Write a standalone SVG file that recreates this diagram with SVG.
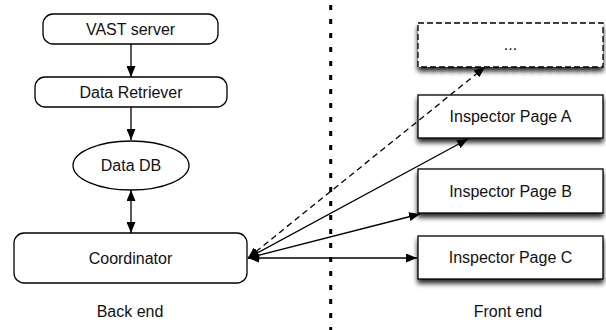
<svg xmlns="http://www.w3.org/2000/svg" width="606" height="330" viewBox="0 0 606 330">
<style>
  .box { fill: #fff; stroke: #000; stroke-width: 1.3; }
  .lbl { font-family: "Liberation Sans", Arial, sans-serif; font-size: 16px; fill: #111; text-anchor: middle; }
  .con { stroke: #000; stroke-width: 1.3; fill: none; }
  .dash { stroke-dasharray: 6 4; }
</style>
<defs>
  <marker id="ah" viewBox="0 0 11 9" markerWidth="11" markerHeight="9" refX="11" refY="4.5" orient="auto-start-reverse" markerUnits="userSpaceOnUse">
    <path d="M0,0 L11,4.5 L0,9 z" fill="#000"/>
  </marker>
  <filter id="sh" x="-10%" y="-20%" width="120%" height="160%">
    <feGaussianBlur in="SourceAlpha" stdDeviation="2.5"/>
    <feOffset dx="0" dy="4" result="b"/>
    <feComponentTransfer><feFuncA type="linear" slope="0.85"/></feComponentTransfer>
    <feMerge><feMergeNode/><feMergeNode in="SourceGraphic"/></feMerge>
  </filter>
</defs>
<rect width="606" height="330" fill="#fff"/>

<line x1="330.7" y1="5" x2="330.7" y2="330" stroke="#000" stroke-width="3" stroke-dasharray="5 9"/>

<g id="vast-server">
  <rect class="box" x="43" y="14" width="175" height="30" rx="10"/>
  <text class="lbl" x="130.5" y="34.8">VAST server</text>
</g>
<g id="data-retriever">
  <rect class="box" x="35" y="77" width="192" height="30" rx="10"/>
  <text class="lbl" x="131" y="97.8">Data Retriever</text>
</g>
<g id="data-db">
  <ellipse class="box" cx="131" cy="165.5" rx="58" ry="24.5"/>
  <text class="lbl" x="131" y="171.3">Data DB</text>
</g>
<g id="coordinator">
  <rect class="box" x="14" y="233" width="233" height="50" rx="10"/>
  <text class="lbl" x="130.5" y="263.8">Coordinator</text>
</g>
<g id="more">
  <rect class="box" x="418" y="23" width="185" height="44" filter="url(#sh)" style="stroke-dasharray:6 3"/>
  <text class="lbl" x="510.5" y="50">...</text>
</g>
<g id="page-a">
  <rect class="box" x="418" y="95" width="185" height="43" filter="url(#sh)"/>
  <text class="lbl" x="510.5" y="122.3">Inspector Page A</text>
</g>
<g id="page-b">
  <rect class="box" x="418" y="169" width="185" height="44" filter="url(#sh)"/>
  <text class="lbl" x="510.5" y="196.8">Inspector Page B</text>
</g>
<g id="page-c">
  <rect class="box" x="418" y="236" width="185" height="43" filter="url(#sh)"/>
  <text class="lbl" x="510.5" y="263.3">Inspector Page C</text>
</g>
<g id="back-end-label"><text class="lbl" x="130" y="316.7">Back end</text></g>
<g id="front-end-label"><text class="lbl" x="508" y="317">Front end</text></g>

<g id="connectors">
  <line class="con" x1="131" y1="44" x2="131" y2="77" marker-end="url(#ah)"/>
  <line class="con" x1="131" y1="107" x2="131" y2="140" marker-end="url(#ah)"/>
  <line class="con" x1="131" y1="190" x2="131" y2="233" marker-start="url(#ah)" marker-end="url(#ah)"/>
  <line class="con dash" x1="248" y1="258" x2="485" y2="67" marker-start="url(#ah)" marker-end="url(#ah)"/>
  <line class="con" x1="248" y1="258" x2="468" y2="139" marker-start="url(#ah)" marker-end="url(#ah)"/>
  <line class="con" x1="248" y1="258" x2="420" y2="214" marker-start="url(#ah)" marker-end="url(#ah)"/>
  <line class="con" x1="248" y1="258" x2="417" y2="258" marker-start="url(#ah)" marker-end="url(#ah)"/>
</g>
</svg>
